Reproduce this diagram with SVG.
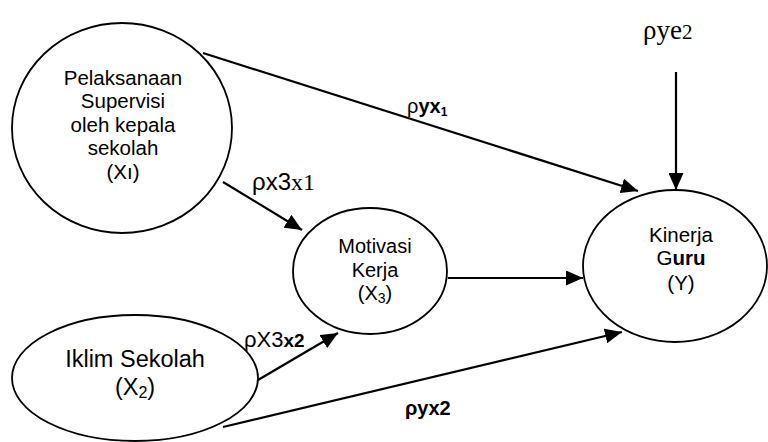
<svg xmlns="http://www.w3.org/2000/svg" width="768" height="442" viewBox="0 0 768 442">
  <style>
    .node { fill: #ffffff; stroke: #000000; stroke-width: 1.8; }
    .edge { stroke: #000000; stroke-width: 2.2; fill: none; marker-end: url(#arrow); }
    .lbl { font-family: "Liberation Sans", Arial, sans-serif; fill: #000000; text-anchor: middle; }
    .coef { font-family: "Liberation Sans", Arial, sans-serif; fill: #000000; }
    .serif { font-family: "Liberation Serif", "Times New Roman", serif; }
    .b { font-weight: bold; }
  </style>
  <defs>
    <marker id="arrow" markerUnits="userSpaceOnUse" markerWidth="17" markerHeight="15" refX="17" refY="7.5" orient="auto">
      <path d="M0,0 L17,7.5 L0,15 z" fill="#000000"/>
    </marker>
  </defs>

  <rect width="768" height="442" fill="#ffffff"/>

  <!-- connectors -->
  <g id="connectors">
    <line class="edge" x1="203" y1="53" x2="638" y2="191"/>
    <line class="edge" x1="223" y1="182" x2="302" y2="230"/>
    <line class="edge" x1="448" y1="278" x2="583" y2="278"/>
    <line class="edge" x1="258" y1="380" x2="338" y2="333"/>
    <line class="edge" x1="223" y1="427" x2="622" y2="332"/>
    <line class="edge" x1="676" y1="72" x2="676" y2="190"/>
  </g>

  <!-- path coefficients -->
  <g id="coefficients">
    <text class="coef" x="252" y="190" font-size="24">ρx3<tspan class="serif">x1</tspan></text>
    <text class="coef" x="244" y="347" font-size="22">ρX3<tspan class="b" font-size="19">x2</tspan></text>
    <text class="coef" x="407" y="113" font-size="20">ρ<tspan class="b">yx</tspan><tspan class="b" font-size="12" dy="3">1</tspan></text>
    <text class="coef b" x="405" y="415" font-size="20">ρyx2</text>
    <text class="coef serif" x="643" y="39" font-size="27">ρye<tspan font-size="21">2</tspan></text>
  </g>

  <!-- X1 -->
  <g id="node-x1">
    <ellipse class="node" cx="122" cy="128" rx="110" ry="105"/>
    <text class="lbl" font-size="20.5" x="123" y="85">Pelaksanaan</text>
    <text class="lbl" font-size="20.5" x="123" y="108">Supervisi</text>
    <text class="lbl" font-size="20.5" x="123" y="132">oleh kepala</text>
    <text class="lbl" font-size="20.5" x="123" y="155">sekolah</text>
    <text class="lbl" font-size="20.5" x="123" y="179">(Xı)</text>
  </g>

  <!-- X3 -->
  <g id="node-x3">
    <ellipse class="node" cx="370" cy="271" rx="77" ry="63"/>
    <text class="lbl" font-size="20" x="375" y="253">Motivasi</text>
    <text class="lbl" font-size="20" x="375" y="277">Kerja</text>
    <text class="lbl" font-size="20" x="375" y="300">(X<tspan font-size="14" dy="3">3</tspan><tspan dy="-3">)</tspan></text>
  </g>

  <!-- Y -->
  <g id="node-y">
    <ellipse class="node" cx="675" cy="266" rx="92" ry="76"/>
    <text class="lbl" font-size="20.5" x="681" y="242">Kinerja</text>
    <text class="lbl" font-size="20.5" x="681" y="265">G<tspan class="b">uru</tspan></text>
    <text class="lbl" font-size="20.5" x="681" y="290">(Y)</text>
  </g>

  <!-- X2 -->
  <g id="node-x2">
    <ellipse class="node" cx="135" cy="378" rx="123" ry="63"/>
    <text class="lbl" font-size="23.5" x="135" y="367">Iklim Sekolah</text>
    <text class="lbl" font-size="23.5" x="135" y="395">(X<tspan font-size="16" dy="3">2</tspan><tspan dy="-3">)</tspan></text>
  </g>
</svg>
